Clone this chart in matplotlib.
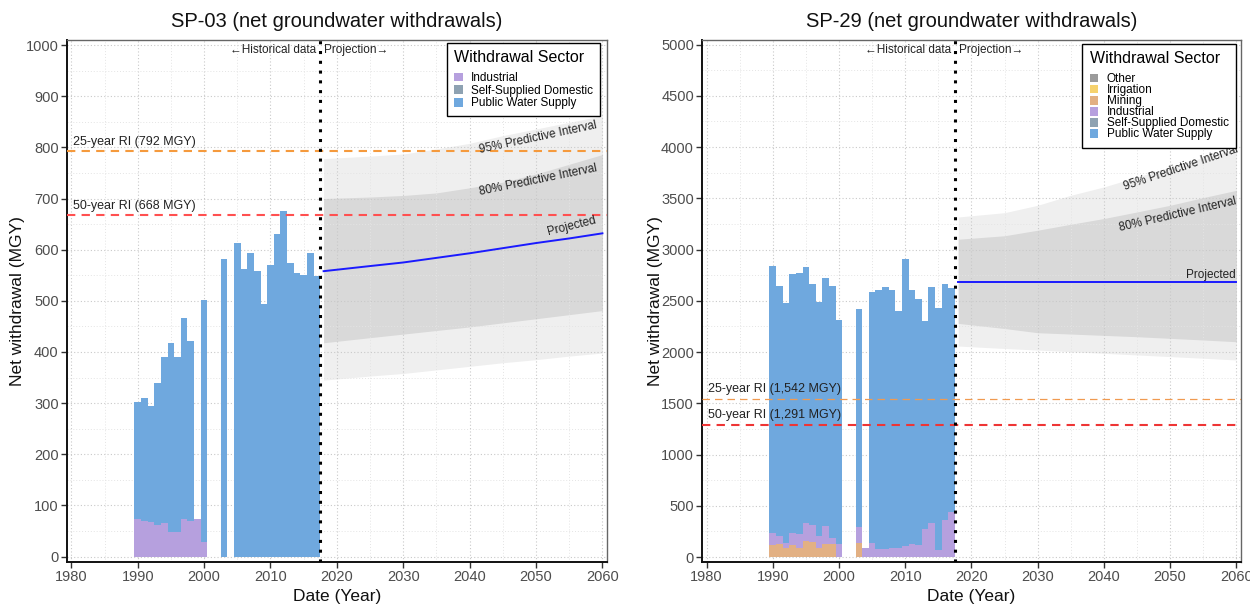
import matplotlib
matplotlib.use("Agg")
import matplotlib.pyplot as plt
from matplotlib.patches import Patch
from matplotlib.ticker import MultipleLocator
import numpy as np

plt.rcParams['font.family'] = ['Liberation Sans', 'DejaVu Sans']

years = list(range(1990, 2018))

# SP-03 historical withdrawals by sector (MGY)
sp03_industrial = [74, 69, 67, 62, 65, 48, 49, 73, 70, 74, 29, 0, 0, 0,
                   0, 0, 0, 0, 0, 0, 0, 0, 0, 0, 0, 0, 0, 0]
sp03_domestic = [0] * 28
sp03_public = [228, 242, 227, 277, 325, 369, 342, 394, 352, 0, 473, 0, 0, 581,
               0, 613, 562, 594, 558, 494, 570, 630, 676, 573, 554, 550, 593, 549]

# SP-29 historical withdrawals by sector (MGY)
sp29_other = [0] * 28
sp29_irrigation = [0] * 28
sp29_mining = [118, 127, 85, 118, 92, 160, 144, 85, 124, 124, 0, 0, 0, 134,
               0, 0, 0, 0, 0, 0, 0, 0, 0, 0, 0, 0, 0, 0]
sp29_industrial = [114, 79, 55, 121, 130, 177, 173, 121, 180, 66, 124, 0, 0, 160,
                   92, 134, 82, 75, 92, 92, 108, 124, 114, 271, 330, 65, 359, 441]
sp29_domestic = [0] * 28
sp29_public = [2606, 2434, 2335, 2522, 2552, 2491, 2350, 2279, 2423, 2450, 2192, 0, 0, 2127,
               0, 2448, 2524, 2561, 2514, 2312, 2801, 2482, 2401, 2029, 2306, 2366, 2304, 2185]

# Projection years and predictive intervals
proj_years = [2018, 2025, 2030, 2035, 2040, 2045, 2050, 2055, 2060]

sp03_proj = [558, 568, 575, 584, 593, 603, 613, 622, 632]
sp03_lo95 = [345, 353, 358, 365, 372, 379, 385, 392, 398]
sp03_hi95 = [778, 783, 787, 797, 808, 823, 836, 849, 862]
sp03_lo80 = [418, 428, 435, 442, 449, 457, 465, 473, 481]
sp03_hi80 = [700, 703, 706, 711, 721, 732, 748, 767, 786]

sp29_proj = [2688] * 9
sp29_lo95 = [2059, 2035, 2020, 2004, 1988, 1972, 1956, 1940, 1923]
sp29_hi95 = [3318, 3360, 3432, 3530, 3611, 3708, 3805, 3897, 3984]
sp29_lo80 = [2280, 2230, 2189, 2176, 2163, 2150, 2134, 2118, 2101]
sp29_hi80 = [3101, 3135, 3189, 3247, 3303, 3367, 3432, 3507, 3578]

sp03_ri = {'25-year RI (792 MGY)': 792, '50-year RI (668 MGY)': 668}
sp29_ri = {'25-year RI (1,542 MGY)': 1542, '50-year RI (1,291 MGY)': 1291}

sector_colors = {
    'Other': '#9B9B9B',
    'Irrigation': '#F6D26E',
    'Mining': '#E2B083',
    'Industrial': '#B6A0DE',
    'Self-Supplied Domestic': '#8EA2B2',
    'Public Water Supply': '#6FA8DE',
}

fig = plt.figure(figsize=(12.5, 6.05), dpi=100)
ax1 = fig.add_axes([0.0536, 0.0716, 0.4318, 0.8623])
ax2 = fig.add_axes([0.5618, 0.0716, 0.4307, 0.8623])


def style_axes(ax, ymax, ymajor, yminor, ypad):
    ax.set_xlim(1979.35, 2060.65)
    ax.set_ylim(-ypad, ymax + ypad)
    ax.xaxis.set_major_locator(MultipleLocator(10))
    ax.xaxis.set_minor_locator(MultipleLocator(5))
    ax.yaxis.set_major_locator(MultipleLocator(ymajor))
    ax.yaxis.set_minor_locator(MultipleLocator(yminor))
    ax.set_axisbelow(True)
    ax.grid(which='major', color='#c9c9c9', linestyle=(0, (1, 2)), linewidth=0.8, zorder=0.5)
    ax.grid(which='minor', color='#e4e4e4', linestyle=(0, (1, 2)), linewidth=0.7, zorder=0.5)
    ax.tick_params(which='minor', length=0)
    ax.tick_params(which='major', length=4, width=1, color='#333333',
                   labelsize=10.5, labelcolor='#4d4d4d', pad=2)
    for side in ['top', 'right']:
        ax.spines[side].set_color('#666666')
        ax.spines[side].set_linewidth(1.0)
    for side in ['left', 'bottom']:
        ax.spines[side].set_color('#111111')
        ax.spines[side].set_linewidth(1.4)
    ax.set_xlabel('Date (Year)', fontsize=12.5, color='#111111')
    ax.set_ylabel('Net withdrawal (MGY)', fontsize=12.5, color='#111111')
    ax.xaxis.set_label_coords(0.5, -0.053)


def draw_stack(ax, series):
    bottom = np.zeros(len(years))
    for name, vals in series:
        vals = np.array(vals, dtype=float)
        ax.bar(years, vals, width=1.0, bottom=bottom, color=sector_colors[name],
               edgecolor='none', linewidth=0, zorder=2)
        bottom += vals


def draw_projection(ax, proj, lo95, hi95, lo80, hi80):
    ax.fill_between(proj_years, lo95, hi95, color='#efefef', linewidth=0, zorder=0.3)
    ax.fill_between(proj_years, lo80, hi80, color='#d9d9d9', linewidth=0, zorder=0.35)
    ax.plot(proj_years, proj, color='#1a1aff', linewidth=1.4, zorder=3)


def draw_divider(ax, ymax):
    ax.axvline(2017.5, color='black', linestyle=(0, (1, 2.2)), linewidth=2.2, zorder=4)
    ax.text(2016.9, ymax * 0.99, '\u2190Historical data', ha='right', va='center',
            fontsize=8.5, color='#222222', zorder=5)
    ax.text(2018.1, ymax * 0.99, 'Projection\u2192', ha='left', va='center',
            fontsize=8.5, color='#222222', zorder=5)


def sector_legend(ax, names, anchor, spacing):
    handles = [Patch(facecolor=sector_colors[n], edgecolor='none', label=n) for n in names]
    leg = ax.legend(handles=handles, title='Withdrawal Sector', loc='upper right',
                    bbox_to_anchor=anchor, borderaxespad=0, fontsize=8.5,
                    title_fontsize=11.5, handlelength=0.75, handleheight=0.75,
                    handletextpad=0.7, labelspacing=spacing, borderpad=0.6,
                    fancybox=False, framealpha=1, edgecolor='black', alignment='left')
    # extra room between the title and the first entry
    leg._legend_box.sep = 5
    leg.get_frame().set_linewidth(1.0)
    leg.set_zorder(6)
    return leg


# ---- SP-03 ----
style_axes(ax1, 1000, 100, 50, 10)
draw_projection(ax1, sp03_proj, sp03_lo95, sp03_hi95, sp03_lo80, sp03_hi80)
draw_stack(ax1, [('Industrial', sp03_industrial),
                 ('Self-Supplied Domestic', sp03_domestic),
                 ('Public Water Supply', sp03_public)])
ri_styles1 = [('#F59A3D', 1.5), ('#FF5050', 1.5)]
for (label, val), (col, lw) in zip(sp03_ri.items(), ri_styles1):
    ax1.axhline(val, color=col, linestyle=(0, (4, 3)), linewidth=lw, zorder=3)
    ax1.text(1980.2, val + 6, label, ha='left', va='bottom', fontsize=9, color='#222222', zorder=5)
draw_divider(ax1, 1000)
ax1.text(2050.3, 819, '95% Predictive Interval', rotation=12, ha='center', va='center',
         rotation_mode='anchor', fontsize=8.5, color='#222222', zorder=5)
ax1.text(2050.3, 737, '80% Predictive Interval', rotation=11.5, ha='center', va='center',
         rotation_mode='anchor', fontsize=8.5, color='#222222', zorder=5)
ax1.text(2055.4, 645, 'Projected', rotation=14, ha='center', va='center',
         rotation_mode='anchor', fontsize=8.5, color='#222222', zorder=5)
ax1.set_title('SP-03 (net groundwater withdrawals)', fontsize=14.5, pad=9, color='#111111')
ax1.yaxis.set_label_coords(-0.077, 0.5)
sector_legend(ax1, ['Industrial', 'Self-Supplied Domestic', 'Public Water Supply'],
              (0.988, 0.994), 0.05)

# ---- SP-29 ----
style_axes(ax2, 5000, 500, 250, 45)
draw_projection(ax2, sp29_proj, sp29_lo95, sp29_hi95, sp29_lo80, sp29_hi80)
draw_stack(ax2, [('Other', sp29_other),
                 ('Irrigation', sp29_irrigation),
                 ('Mining', sp29_mining),
                 ('Industrial', sp29_industrial),
                 ('Self-Supplied Domestic', sp29_domestic),
                 ('Public Water Supply', sp29_public)])
ri_styles2 = [('#F09A50', 0.9), ('#EE3535', 1.5)]
for (label, val), (col, lw) in zip(sp29_ri.items(), ri_styles2):
    ax2.axhline(val, color=col, linestyle=(0, (4, 3)) if lw > 1 else (0, (6, 4)),
                linewidth=lw, zorder=3)
    ax2.text(1980.2, val + 40, label, ha='left', va='bottom', fontsize=9, color='#222222', zorder=5)
draw_divider(ax2, 5000)
ax2.text(2051.6, 3796, '95% Predictive Interval', rotation=18.5, ha='center', va='center',
         rotation_mode='anchor', fontsize=8.5, color='#222222', zorder=5)
ax2.text(2051.2, 3345, '80% Predictive Interval', rotation=13, ha='center', va='center',
         rotation_mode='anchor', fontsize=8.5, color='#222222', zorder=5)
ax2.text(2056.2, 2751, 'Projected', rotation=0, ha='center', va='center',
         fontsize=8.5, color='#222222', zorder=5)
ax2.set_title('SP-29 (net groundwater withdrawals)', fontsize=14.5, pad=9, color='#111111')
ax2.yaxis.set_label_coords(-0.073, 0.5)
sector_legend(ax2, ['Other', 'Irrigation', 'Mining', 'Industrial',
                    'Self-Supplied Domestic', 'Public Water Supply'],
              (0.991, 0.992), -0.08)

fig.savefig('out.png', dpi=100)
